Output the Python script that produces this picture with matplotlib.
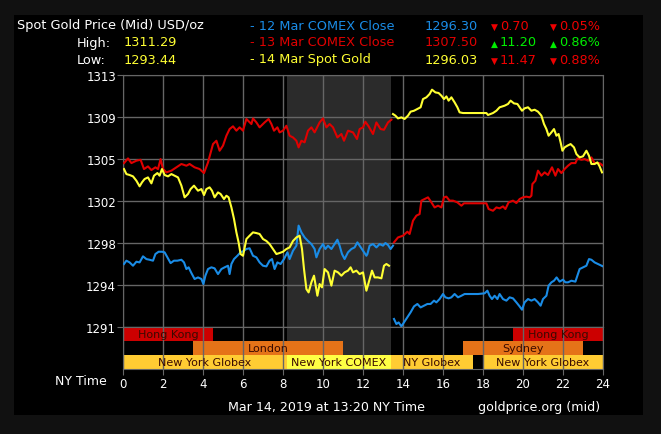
import numpy as np
import matplotlib
matplotlib.use("Agg")
import matplotlib.pyplot as plt
from matplotlib.patches import Rectangle

# ---- data (NY time in hours, USD/oz) ----
nan = np.nan

red_hours = [0.05, 0.25, 0.42, 0.67, 0.88, 1.05, 1.25, 1.42, 1.62, 1.75, 1.88, 2.00, 2.17, 2.42, 2.67,
             2.92, 3.17, 3.33, 3.58, 3.83, 4.05, 4.25, 4.50, 4.67, 4.83, 5.00, 5.17, 5.33, 5.50, 5.67,
             5.83, 6.00, 6.17, 6.42, 6.50, 6.67, 6.83, 7.08, 7.28, 7.42, 7.55, 7.72, 7.83, 8.00, 8.17,
             8.33, 8.50, 8.67, 8.78, 8.92, 9.08, 9.25, 9.42, 9.58, 9.83, 10.00, 10.17, 10.33, 10.50,
             10.72, 10.92, 11.05, 11.25, 11.50, 11.70, 11.83, 12.00, 12.12, 12.28, 12.50, 12.67, 12.88,
             13.05, 13.25, 13.42, 13.50, 13.55, 13.75, 14.00, 14.22, 14.33, 14.50, 14.67, 14.83, 14.92,
             15.08, 15.25, 15.42, 15.58, 15.75, 15.92, 16.05, 16.17, 16.33, 16.50, 16.72, 16.92, 17.05,
             17.42, 17.75, 18.17, 18.28, 18.50, 18.67, 18.83, 19.00, 19.12, 19.28, 19.50, 19.67, 19.83,
             20.00, 20.17, 20.33, 20.42, 20.47, 20.62, 20.75, 20.92, 21.08, 21.25, 21.45, 21.62, 21.75,
             21.92, 22.08, 22.25, 22.42, 22.62, 22.72, 22.92, 23.08, 23.25, 23.42, 23.58, 23.83, 24.00]
red_values = [1305.31, 1305.72, 1305.31, 1305.52, 1305.60, 1304.79, 1305.02, 1304.70, 1304.94, 1304.79,
              1305.66, 1304.79, 1304.50, 1304.65, 1304.94, 1305.23, 1305.08, 1305.23, 1304.94, 1304.79,
              1304.44, 1305.37, 1306.97, 1307.26, 1306.39, 1306.83, 1307.70, 1308.28, 1308.52, 1308.14,
              1308.43, 1308.14, 1309.16, 1308.72, 1309.21, 1308.86, 1308.43, 1308.86, 1309.16, 1308.72,
              1308.14, 1308.43, 1307.99, 1308.14, 1308.57, 1307.70, 1307.55, 1307.26, 1306.68, 1307.26,
              1307.12, 1308.14, 1308.43, 1307.99, 1308.86, 1309.21, 1308.43, 1308.72, 1308.43, 1307.55,
              1307.85, 1307.26, 1308.14, 1307.99, 1307.41, 1308.28, 1308.43, 1308.92, 1308.52, 1307.85,
              1308.86, 1308.28, 1308.22, 1308.86, 1309.10, nan, 1298.39, 1298.82, 1298.97, 1299.32,
              1299.12, 1300.28, 1300.72, 1300.86, 1302.03, 1302.17, 1302.32, 1301.88, 1301.44, 1301.59,
              1301.44, 1302.32, 1302.38, 1302.03, 1302.03, 1301.88, 1301.59, 1301.80, 1301.80, 1301.80,
              1301.80, 1301.30, 1301.15, 1301.44, 1301.36, 1301.53, 1301.30, 1301.88, 1302.03, 1301.82,
              1302.17, 1302.32, 1302.38, 1302.32, 1302.46, 1303.48, 1303.77, 1304.65, 1304.21, 1304.50,
              1304.27, 1304.94, 1304.21, 1304.79, 1304.44, 1304.79, 1305.08, 1305.31, 1305.31, 1305.72,
              1305.60, 1305.66, 1305.52, 1305.81, 1305.31, 1305.31, 1305.08]

yellow_hours = [0.05, 0.17, 0.33, 0.50, 0.67, 0.83, 0.95, 1.08, 1.25, 1.42, 1.55, 1.72, 1.83, 1.95, 2.08,
                2.25, 2.42, 2.58, 2.75, 2.92, 3.08, 3.25, 3.38, 3.55, 3.75, 3.92, 4.05, 4.17, 4.33, 4.45,
                4.58, 4.75, 4.88, 5.05, 5.17, 5.28, 5.42, 5.55, 5.67, 5.78, 5.88, 6.00, 6.17, 6.33, 6.50,
                6.67, 6.83, 7.00, 7.17, 7.33, 7.50, 7.67, 7.83, 8.00, 8.17, 8.33, 8.50, 8.67, 8.83, 8.95,
                9.05, 9.17, 9.28, 9.42, 9.55, 9.72, 9.83, 9.95, 10.08, 10.25, 10.42, 10.58, 10.75, 10.92,
                11.08, 11.25, 11.38, 11.50, 11.67, 11.83, 12.00, 12.17, 12.33, 12.45, 12.58, 12.75, 12.92,
                13.05, 13.17, 13.30, 13.40, 13.50, 13.62, 13.75, 13.92, 14.08, 14.25, 14.38, 14.55, 14.72,
                14.88, 15.00, 15.17, 15.33, 15.45, 15.62, 15.78, 15.92, 16.05, 16.17, 16.28, 16.42, 16.58,
                16.72, 16.83, 17.00, 17.42, 17.83, 18.17, 18.25, 18.50, 18.67, 18.83, 19.08, 19.25, 19.38,
                19.55, 19.72, 19.83, 19.95, 20.08, 20.25, 20.42, 20.58, 20.75, 20.92, 21.05, 21.17, 21.28,
                21.42, 21.55, 21.67, 21.78, 21.88, 21.97, 22.08, 22.22, 22.38, 22.55, 22.67, 22.83, 23.00,
                23.17, 23.30, 23.42, 23.58, 23.72, 23.83, 23.95]
yellow_values = [1304.79, 1304.35, 1304.27, 1304.15, 1303.77, 1303.28, 1303.63, 1303.92, 1304.06, 1303.54,
                 1304.21, 1304.44, 1304.21, 1304.79, 1304.27, 1304.15, 1304.35, 1304.21, 1304.06, 1303.34,
                 1302.32, 1302.61, 1303.04, 1303.34, 1302.90, 1303.04, 1302.52, 1303.04, 1303.19, 1302.90,
                 1302.32, 1302.75, 1302.61, 1302.17, 1302.46, 1302.32, 1301.44, 1300.43, 1299.26, 1298.39,
                 1297.37, 1297.22, 1298.68, 1298.97, 1299.26, 1299.20, 1299.12, 1298.68, 1298.51, 1298.24,
                 1297.81, 1297.37, 1297.46, 1297.57, 1297.81, 1297.95, 1298.51, 1298.82, 1298.97, 1297.81,
                 1296.06, 1294.31, 1294.02, 1294.90, 1295.48, 1293.73, 1294.75, 1294.46, 1296.06, 1295.77,
                 1294.61, 1295.92, 1295.77, 1295.48, 1295.77, 1295.92, 1296.21, 1295.77, 1295.92, 1295.62,
                 1295.77, 1294.17, 1295.19, 1295.92, 1295.33, 1295.33, 1295.25, 1296.35, 1296.50, 1296.35,
                 nan, 1309.59, 1309.45, 1309.21, 1309.30, 1309.16, 1309.45, 1309.80, 1309.88, 1310.03,
                 1310.18, 1310.90, 1311.05, 1311.34, 1311.72, 1311.48, 1311.43, 1311.19, 1310.90, 1311.13,
                 1310.76, 1311.05, 1310.61, 1310.18, 1309.74, 1309.68, 1309.68, 1309.68, 1309.68, 1309.51,
                 1309.68, 1309.88, 1310.18, 1310.32, 1310.47, 1310.76, 1310.52, 1310.47, 1310.18, 1309.88,
                 1310.09, 1310.18, 1309.88, 1309.97, 1309.80, 1309.45, 1308.72, 1308.28, 1307.70, 1307.99,
                 1308.28, 1307.70, 1307.85, 1307.12, 1306.39, 1306.68, 1306.83, 1306.97, 1306.68, 1306.10,
                 1305.81, 1305.90, 1306.39, 1305.95, 1305.23, 1305.23, 1305.37, 1305.02, 1304.50]

blue_hours = [0.05, 0.17, 0.33, 0.50, 0.67, 0.83, 1.00, 1.17, 1.33, 1.50, 1.62, 1.78, 1.95, 2.08, 2.22,
              2.38, 2.55, 2.72, 2.92, 3.05, 3.17, 3.28, 3.42, 3.58, 3.75, 3.92, 4.02, 4.12, 4.25, 4.42,
              4.58, 4.75, 4.92, 5.08, 5.25, 5.33, 5.42, 5.55, 5.72, 5.88, 6.05, 6.17, 6.33, 6.50, 6.67,
              6.83, 7.00, 7.17, 7.33, 7.45, 7.58, 7.72, 7.88, 8.05, 8.22, 8.33, 8.50, 8.67, 8.78, 8.92,
              9.08, 9.25, 9.42, 9.58, 9.67, 9.83, 10.00, 10.12, 10.25, 10.42, 10.58, 10.72, 10.83, 10.95,
              11.08, 11.25, 11.42, 11.58, 11.72, 11.83, 12.00, 12.17, 12.22, 12.33, 12.50, 12.67, 12.83,
              13.00, 13.12, 13.25, 13.38, 13.50, 13.52, 13.55, 13.67, 13.78, 13.92, 14.05, 14.22, 14.38,
              14.55, 14.72, 14.88, 15.05, 15.22, 15.38, 15.55, 15.67, 15.83, 16.00, 16.12, 16.28, 16.42,
              16.58, 16.75, 16.92, 17.08, 17.42, 17.75, 18.08, 18.22, 18.33, 18.45, 18.58, 18.72, 18.83,
              19.00, 19.17, 19.33, 19.50, 19.67, 19.83, 19.95, 20.08, 20.25, 20.42, 20.58, 20.75, 20.88,
              21.00, 21.17, 21.28, 21.42, 21.55, 21.68, 21.83, 22.00, 22.12, 22.25, 22.42, 22.62, 22.72,
              22.83, 23.00, 23.17, 23.30, 23.42, 23.58, 23.75, 23.92, 24.00]
blue_values = [1296.50, 1296.79, 1296.64, 1296.35, 1296.70, 1296.64, 1297.17, 1296.93, 1296.87, 1296.79,
               1297.37, 1297.57, 1297.57, 1297.52, 1297.08, 1296.58, 1296.79, 1296.79, 1296.87, 1296.64,
               1296.06, 1296.21, 1295.71, 1295.19, 1295.33, 1295.19, 1294.75, 1295.48, 1296.06, 1296.21,
               1296.12, 1295.62, 1296.06, 1296.21, 1296.35, 1295.62, 1296.50, 1296.93, 1297.22, 1297.52,
               1297.66, 1297.81, 1297.87, 1297.22, 1297.08, 1296.64, 1296.35, 1296.29, 1296.79, 1296.93,
               1296.06, 1296.64, 1296.50, 1296.93, 1297.52, 1296.93, 1297.66, 1298.10, 1299.85, 1299.26,
               1298.82, 1298.51, 1298.24, 1297.81, 1297.08, 1297.81, 1298.24, 1297.81, 1298.10, 1297.81,
               1298.24, 1298.62, 1298.10, 1297.37, 1296.93, 1297.52, 1297.81, 1297.95, 1298.39, 1298.10,
               1297.66, 1297.22, 1297.37, 1298.10, 1298.24, 1297.95, 1298.24, 1298.10, 1298.33, 1298.16,
               1297.81, 1298.10, nan, 1291.70, 1291.26, 1291.40, 1291.06, 1291.40, 1291.84, 1292.28,
               1292.80, 1293.01, 1292.71, 1292.86, 1293.01, 1293.01, 1293.30, 1293.15, 1293.44, 1293.88,
               1293.59, 1293.50, 1293.59, 1293.88, 1293.59, 1293.73, 1293.88, 1293.88, 1293.88, 1293.94,
               1294.17, 1293.73, 1293.44, 1293.73, 1293.44, 1293.88, 1293.44, 1293.30, 1293.59, 1293.50,
               1293.15, 1292.80, 1292.51, 1293.15, 1293.44, 1293.30, 1293.44, 1293.15, 1292.86, 1293.44,
               1293.73, 1294.61, 1294.90, 1295.04, 1295.33, 1294.96, 1295.13, 1294.90, 1294.90, 1295.04,
               1294.96, 1295.48, 1296.06, 1296.21, 1296.35, 1296.93, 1296.87, 1296.64, 1296.50, 1296.35,
               1296.29]

ytick_labels = ["1291", "1294", "1298", "1302", "1305", "1309", "1313"]
xtick_labels = [str(h) for h in range(0, 25, 2)]

# market sessions: (name, start, end, row)  row 0 = bottom
sessions = [("Hong Kong", 0, 4.5, 2), ("Hong Kong", 19.5, 24, 2),
            ("London", 3.5, 11, 1), ("Sydney", 17, 23, 1),
            ("New York Globex", 0, 8.2, 0), ("New York COMEX", 8.2, 13.4, 0),
            ("NY Globex", 13.4, 17.5, 0), ("New York Globex", 18, 24, 0)]
session_colors = {"Hong Kong": "#cc0000", "London": "#e57318", "Sydney": "#e57318",
                  "New York Globex": "#ffcc33", "NY Globex": "#ffcc33", "New York COMEX": "#ffff44"}
comex_open, comex_close = 8.2, 13.4

# header rows: (label, colour, close, change, pct, up)
header = [("- 12 Mar COMEX Close", "#1a8ce6", "1296.30", "0.70", "0.05%", False),
          ("- 13 Mar COMEX Close", "#e00000", "1307.50", "11.20", "0.86%", True),
          ("- 14 Mar Spot Gold", "#ffff33", "1296.03", "11.47", "0.88%", False)]

W, H = 661, 435
plt.rcParams['font.family'] = ['DejaVu Sans']
fig = plt.figure(figsize=(W / 100, H / 100), dpi=100, facecolor="#111111")
fig.patches.append(Rectangle((14 / W, 1 - 416 / H), (643 - 14) / W, (416 - 16) / H,
                             transform=fig.transFigure, facecolor="black", edgecolor="none", zorder=-5))

def px(x, y):
    return x / W, 1 - y / H

grid_c = "#666666"

# main price axes
ax = fig.add_axes([123 / W, 1 - 328 / H, 480 / W, 252 / H])
ax.set_facecolor("black")
ax.set_xlim(0, 24)
ax.set_ylim(1291, 1313)
ax.axvspan(comex_open, comex_close, color="#2b2b2b", zorder=0.5, lw=0)
ax.plot(blue_hours, blue_values, color="#1a8ce6", lw=1.5, zorder=3)
ax.plot(red_hours, red_values, color="#e00000", lw=1.5, zorder=3)
ax.plot(yellow_hours, yellow_values, color="#ffff33", lw=1.5, zorder=4)
ax.set_xticks(range(0, 25, 2))
ax.set_yticks(np.linspace(1291, 1313, 7))
ax.set_yticklabels(ytick_labels)
ax.grid(True, color=grid_c, lw=1)
ax.tick_params(axis="x", length=0, labelbottom=False)
ax.tick_params(axis="y", colors=grid_c, labelcolor="white", labelsize=8.5, length=4, pad=1)
for s in ax.spines.values():
    s.set_color(grid_c)

# session bars axes
axb = fig.add_axes([123 / W, 1 - 370 / H, 480 / W, 42 / H])
axb.set_facecolor("black")
axb.set_xlim(0, 24)
axb.set_ylim(0, 3)
axb.axvspan(comex_open, comex_close, ymin=1 / 3, ymax=1, color="#2b2b2b", zorder=0.5, lw=0)
for name, start, end, row in sessions:
    axb.barh(row + 0.5, end - start, left=start, height=1, color=session_colors[name], zorder=1)
    axb.text((start + end) / 2, row + 0.5, name, ha="center", va="center",
             fontsize=8, color="#3a0a00", zorder=4)
axb.set_xticks(range(0, 25, 2))
axb.set_xticklabels(xtick_labels)
axb.set_yticks([])
axb.grid(True, axis="x", color=grid_c, lw=1)
axb.set_axisbelow(False)
axb.tick_params(axis="x", colors=grid_c, labelcolor="white", labelsize=8.5, length=4, pad=2)
for s in axb.spines.values():
    s.set_color(grid_c)

# header text
fs = 9.3
fig.text(*px(17, 26), "Spot Gold Price (Mid) USD/oz", color="white", fontsize=fs, va="center")
fig.text(*px(77, 43), "High:", color="white", fontsize=fs, va="center")
fig.text(*px(124, 43), "1311.29", color="#ffff33", fontsize=fs, va="center")
fig.text(*px(77, 60), "Low:", color="white", fontsize=fs, va="center")
fig.text(*px(124, 60), "1293.44", color="#ffff33", fontsize=fs, va="center")
for i, (lab, col, close, chg, pct, up) in enumerate(header):
    y = 26 + i * 17
    fig.text(*px(250, y), lab, color=col, fontsize=fs, va="center")
    fig.text(*px(425, y), close, color=col, fontsize=fs, va="center")
    c = "#00ee00" if up else "#ee0000"
    tri = "\u25b2" if up else "\u25bc"
    fig.text(*px(491, y + 1), tri, color=c, fontsize=6.5, va="center")
    fig.text(*px(500, y), chg, color=c, fontsize=fs, va="center")
    fig.text(*px(550, y + 1), tri, color=c, fontsize=6.5, va="center")
    fig.text(*px(559, y), pct, color=c, fontsize=fs, va="center")

fig.text(*px(107, 382), "NY Time", color="white", fontsize=9, va="center", ha="right")
fig.text(*px(228, 408), "Mar 14, 2019 at 13:20 NY Time", color="white", fontsize=9.1, va="center")
fig.text(*px(478, 408), "goldprice.org (mid)", color="white", fontsize=9.1, va="center")

fig.savefig("out.png", dpi=100, facecolor=fig.get_facecolor())
